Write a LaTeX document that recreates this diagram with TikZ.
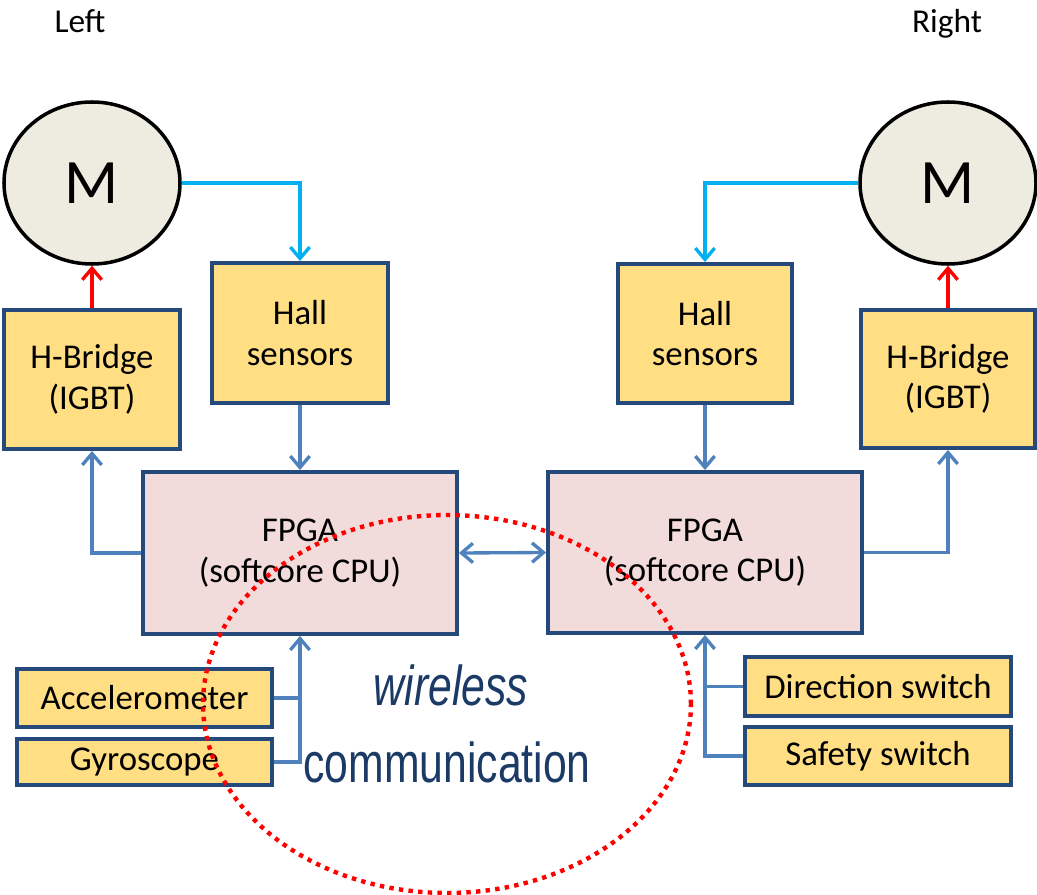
\documentclass[tikz,border=0pt]{standalone}
\usepackage{fontspec}
\setmainfont{Carlito}
\newfontfamily\arialfont{Liberation Sans}
\usetikzlibrary{arrows.meta,shapes.geometric,calc}

\definecolor{boxfill}{HTML}{FFDE84}
\definecolor{cpufill}{HTML}{F2DCDB}
\definecolor{edgeblue}{HTML}{24497A}
\definecolor{motorfill}{HTML}{EEECE1}
\definecolor{linkblue}{HTML}{4F81BD}
\definecolor{feedcyan}{HTML}{00B0F0}
\definecolor{labelblue}{HTML}{1B3A66}

\tikzset{
  sz/.style 2 args={minimum width=#1*0.02cm, minimum height=#2*0.02cm},
  unit/.style={draw=edgeblue, line width=2.2pt, fill=boxfill, inner sep=0pt,
    align=center, font=\fontsize{19.8}{23}\selectfont},
  cpu/.style={unit, fill=cpufill},
  motor/.style={ellipse, draw=black, line width=2pt, fill=motorfill, inner sep=0pt,
    font=\fontsize{36}{38}\selectfont},
  sidelabel/.style={font=\fontsize{19}{21}\selectfont, anchor=base},
  tip/.style={-{Straight Barb[length=6.5pt,width=11pt]}},
  bus/.style={linkblue, line width=1.9pt},
  feed/.style={feedcyan, line width=1.9pt, tip},
  drive/.style={red, line width=1.9pt, tip},
  radio/.style={red, line width=2.5pt, dash pattern=on 2.5pt off 3pt},
  bigword/.style={labelblue, font=\arialfont\fontsize{32}{34}\selectfont, xscale=0.76, anchor=base}
}

\begin{document}
\begin{tikzpicture}[x=0.02cm, y=-0.02cm]
  \useasboundingbox (0,0) rectangle (1037,895);

  % side captions
  \node[sidelabel] (capL) at (80,33) {Left};
  \node[sidelabel] (capR) at (947,33) {Right};

  % motors
  \node[motor, sz={176}{162}] (mL) at (92,183) {M};
  \node[motor, sz={176}{162}] (mR) at (948,183) {M};

  % power stages and sensors
  \node[unit, sz={176}{139}] (hbL) at (92,379.5) {H-Bridge\\(IGBT)};
  \node[unit, sz={174}{138}] (hbR) at (948,379) {H-Bridge\\(IGBT)};
  \node[unit, sz={176}{140}] (hallL) at (300,333) {Hall\\sensors};
  \node[unit, sz={174}{139}] (hallR) at (705,333.5) {Hall\\sensors};

  % controllers
  \node[cpu, sz={314}{162}] (fpgaL) at (300,553) {FPGA\\(softcore CPU)};
  \node[cpu, sz={314}{161}] (fpgaR) at (705,552.5) {FPGA\\(softcore CPU)};

  % inputs
  \node[unit, sz={255}{58}] (acc) at (144.5,698) {Accelerometer};
  \node[unit, sz={255}{46}] (gyro) at (144.5,762) {Gyroscope};
  \node[unit, sz={266}{59}] (dir) at (878,686.5) {Direction switch};
  \node[unit, sz={266}{58}] (safe) at (878,756) {Safety switch};

  % motor feedback to Hall sensors
  \draw[feed] (mL.east) -| (hallL.north);
  \draw[feed] (mR.west) -| (hallR.north);

  % H-bridges drive the motors
  \draw[drive] (hbL.north) -- (mL.south);
  \draw[drive] (hbR.north) -- (mR.south);

  % sensor and control paths
  \draw[bus, tip] (hallL.south) -- (fpgaL.north);
  \draw[bus, tip] (hallR.south) -- (fpgaR.north);
  \draw[bus, tip] (fpgaL.west) -| (hbL.south);
  \draw[bus, tip] (fpgaR.east) -| (hbR.south);
  \draw[bus, {Straight Barb[length=6.5pt,width=11pt]}-{Straight Barb[length=6.5pt,width=11pt]}]
    (fpgaL.east) -- (fpgaR.west);

  \draw[bus] (acc.east) -- (acc.east -| fpgaL.south);
  \draw[bus, tip] (gyro.east) -| (fpgaL.south);
  \draw[bus] (dir.west) -- (dir.west -| fpgaR.south);
  \draw[bus, tip] (safe.west) -| (fpgaR.south);

  % wireless link zone
  \draw[radio] (447,704) ellipse [x radius=4.88cm, y radius=3.78cm];
  \node[bigword] (wl) at (451,705) {\itshape wireless};
  \node[bigword] (wc) at (447,782) {communication};
\end{tikzpicture}
\end{document}
